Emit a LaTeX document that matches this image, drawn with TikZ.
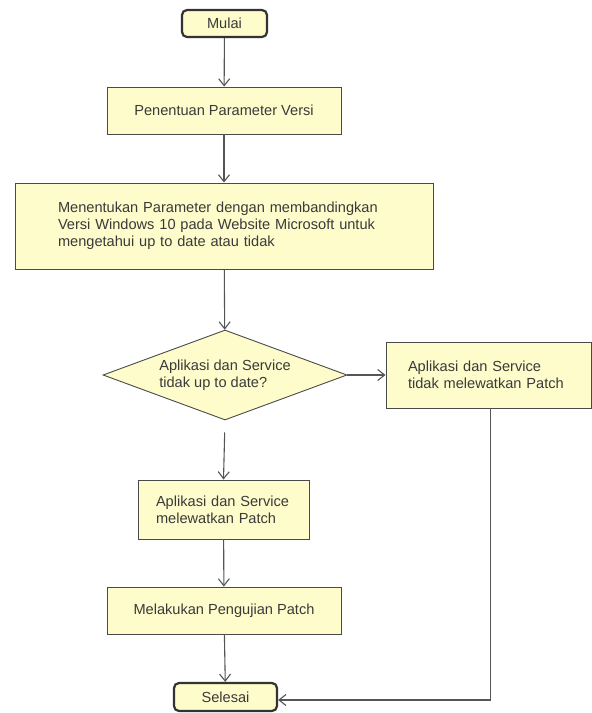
\documentclass[tikz,border=0pt]{standalone}
\usepackage{fontspec}
\setmainfont{Liberation Sans}
\usetikzlibrary{shapes.geometric,arrows.meta}
\definecolor{boxfill}{HTML}{FEFCCB}
\definecolor{boxline}{HTML}{4A4A4A}
\definecolor{termline}{HTML}{333333}
\definecolor{wire}{HTML}{555555}
\definecolor{ink}{HTML}{3A3A3A}
\begin{document}
\begin{tikzpicture}[x=1pt,y=-1pt,
  every node/.style={font=\fontsize{14.6}{17}\selectfont, text=ink},
  terminal/.style={draw=termline, line width=2.2pt, fill=boxfill, rounded corners=5pt, inner sep=0pt},
  process/.style={draw=boxline, line width=0.9pt, fill=boxfill, inner sep=0pt},
  decision/.style={draw=boxline, line width=0.9pt, fill=boxfill, shape=diamond, inner sep=0pt,
    shape aspect=2.7, minimum width=244pt, minimum height=90pt, align=left},
  flow/.style={draw=wire, line width=1.1pt, -{Straight Barb[length=7pt,width=11pt,line width=1.1pt]}}
]
\useasboundingbox (0,0) rectangle (592,713);

% start and end
\node[terminal, minimum width=85pt, minimum height=27pt] (mulai) at (224.5,23.5) {Mulai};
\node[terminal, minimum width=103pt, minimum height=28pt] (selesai) at (225.5,697) {Selesai};

% process steps
\node[process, minimum width=234pt, minimum height=47pt] (param) at (224,110.5) {Penentuan Parameter Versi};
\node[process, minimum width=418pt, minimum height=86pt, text width=332pt, align=left, inner xsep=43pt] (banding) at (224,226)
  {Menentukan Parameter dengan membandingkan\\Versi Windows 10 pada Website Microsoft untuk\\mengetahui up to date atau tidak};
\node[decision] (cek) at (225,375) {Aplikasi dan Service\\tidak up to date?};
\node[process, minimum width=204pt, minimum height=66pt, text width=161pt, align=left, inner xsep=22pt] (tidak) at (488.5,375)
  {Aplikasi dan Service\\tidak melewatkan Patch};
\node[process, minimum width=171pt, minimum height=59pt, text width=135pt, align=left, inner xsep=18pt] (lewat) at (223.5,509.5)
  {Aplikasi dan Service\\melewatkan Patch};
\node[process, minimum width=234pt, minimum height=47pt] (uji) at (224,610.5) {Melakukan Pengujian Patch};

% connectors
\draw[flow] (mulai) -- (param);
\draw[flow] (param) -- (banding);
\draw[flow] (banding) -- (cek);
\draw[flow] (cek.east) -- (tidak.west);
\draw[flow, shorten <=12pt] (cek.south) -- (lewat.north);
\draw[flow] (lewat) -- (uji);
\draw[flow] (uji) -- (selesai);
\draw[flow] ([xshift=2pt]tidak.south) |- ([yshift=-3pt]selesai.east);
\end{tikzpicture}
\end{document}
